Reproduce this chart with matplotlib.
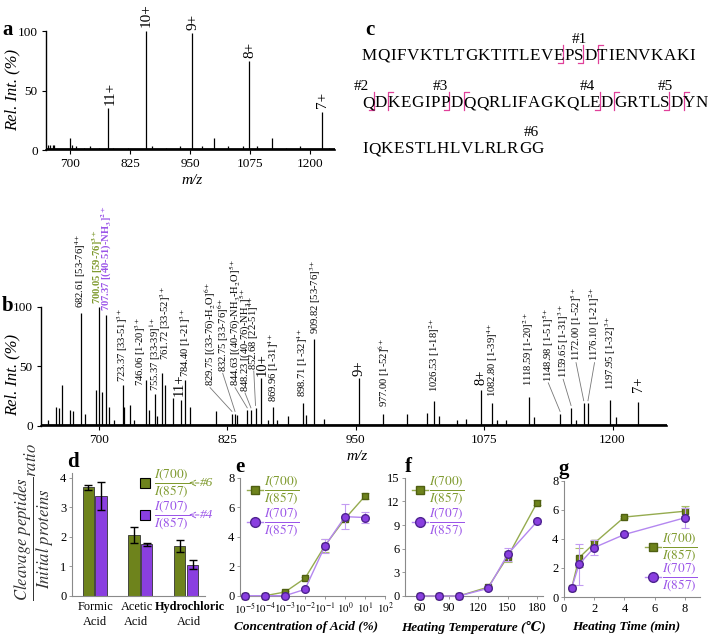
"""
plot.py
Mass spectra of acid-cleaved ubiquitin (a, b), sequence map (c) and
cleavage ratios vs acid / temperature / time (d-g).
"""

import numpy as np
import matplotlib
matplotlib.use("Agg")
import matplotlib.pyplot as plt
from matplotlib.lines import Line2D
from matplotlib.ticker import NullLocator
from matplotlib.font_manager import FontProperties, findfont, get_font

plt.rcParams['font.family'] = ['Liberation Serif', 'DejaVu Serif']
plt.rcParams['mathtext.fontset'] = 'stix'

# ==========================================
# Data
# ==========================================
# panel a: intact protein spectrum (m/z, rel. intensity %)
a_mz = [655, 659, 664.6, 667, 700, 705, 712, 730, 742, 760, 779.9, 790, 820,
        857.8, 870, 900, 930, 953.1, 975, 1000, 1030, 1060, 1071.9, 1090, 1121,
        1150, 1180, 1225.1, 1240]
a_int = [4, 4, 4, 4, 10, 4, 3, 2, 3, 2, 35, 2, 2,
         100, 3, 2, 3, 98, 3, 10, 3, 3, 75, 3, 10,
         2, 3, 32, 2]
a_charge_lab = ["11+", "10+", "9+", "8+", "7+"]
a_charge_mz = [784, 859.7, 955.5, 1075, 1226]
a_charge_y = [38, 103, 101, 77, 35]

# panel b: digested spectrum
b_mz = [650.8, 658.5, 661.7, 664.9, 672.4, 674.7, 682.61, 686.7, 697.3, 700.05,
        703.0, 707.37, 710.0, 715.0, 723.37, 724.8, 730.7, 734.0, 746.06, 748.6,
        755.37, 757.0, 761.72, 764.2, 772.0, 779.9, 784.40, 789.0, 814.0, 829.75,
        832.75, 835.0, 844.63, 848.23, 852.68, 857.8, 864.5, 869.96, 874.0, 884.0,
        898.71, 901.6, 909.82, 919.5, 953.1, 977.00, 1000.5, 1020.0, 1026.53, 1031.0,
        1049.0, 1057.0, 1071.9, 1082.80, 1088.0, 1096.0, 1118.59, 1124.0, 1148.98, 1159.65,
        1164.0, 1172.00, 1176.10, 1197.95, 1203.0, 1225.1]
b_int = [5, 16, 15, 34, 13, 12, 95, 10, 30, 100,
         28, 93, 16, 5, 34, 16, 17, 5, 38, 13,
         27, 8, 44, 34, 23, 22, 38, 16, 12, 10,
         10, 9, 13, 13, 15, 40, 5, 16, 5, 8,
         19, 9, 73, 6, 40, 10, 10, 11, 21, 8,
         5, 6, 30, 19, 5, 5, 24, 7, 10, 15,
         5, 19, 19, 22, 7, 20]

b_lab_text = [
    "682.61 [53-76]$^{4+}$",
    "700.05 [59-76]$^{\\mathbf{3+}}$",
    "707.37 [(40-51)-NH$_\\mathbf{3}$]$^{\\mathbf{2+}}$",
    "723.37 [33-51]$^{3+}$",
    "746.06 [1-20]$^{3+}$",
    "755.37 [33-39]$^{1+}$",
    "761.72 [33-52]$^{3+}$",
    "784.40 [1-21]$^{3+}$",
    "829.75 [(33-76)-H$_2$O]$^{6+}$",
    "832.75 [33-76]$^{6+}$",
    "844.63 [(40-76)-NH$_3$-H$_2$O]$^{5+}$",
    "848.23 [(40-76)-NH$_3$]$^{5+}$",
    "852.68 [22-51]$^{4+}$",
    "869.96 [1-31]$^{4+}$",
    "898.71 [1-32]$^{4+}$",
    "909.82 [53-76]$^{3+}$",
    "977.00 [1-52]$^{6+}$",
    "1026.53 [1-18]$^{2+}$",
    "1082.80 [1-39]$^{4+}$",
    "1118.59 [1-20]$^{2+}$",
    "1148.98 [1-51]$^{5+}$",
    "1159.65 [1-31]$^{3+}$",
    "1172.00 [1-52]$^{5+}$",
    "1176.10 [1-21]$^{2+}$",
    "1197.95 [1-32]$^{3+}$",
]
b_lab_x = [682.6, 698.7, 708.0, 723.4, 741.0, 754.8, 765.5, 784.6, 808.5, 820.8,
           832.8, 842.5, 851.0, 870.5, 898.0, 911.0, 977.5, 1026.5, 1083.5, 1118.6,
           1137.5, 1152.0, 1164.5, 1182.5, 1198.5]
b_lab_y = [99, 102, 96, 37, 33, 29, 55, 41, 33, 45,
           33, 28.5, 47, 20, 24, 77, 16, 28.5, 24, 33,
           37, 40, 54, 54, 30]
# leader lines: index of label -> (peak m/z, peak height)
b_leaders = {8: (829.75, 11), 9: (832.75, 11), 10: (844.63, 14), 11: (848.23, 14),
             12: (852.68, 16), 20: (1148.98, 11), 21: (1159.65, 16),
             22: (1172.00, 20), 23: (1176.10, 20)}
b_charge_lab = ["11+", "10+", "9+", "8+", "7+"]
b_charge_mz = [778, 859.5, 953, 1072, 1225.5]
b_charge_y = [25, 42, 42, 34, 28.5]

# panel c: sequence
seq_lines = ["MQIFVKTLTGKTITLEVEPSDTIENVKAKI",
             "QDKEGIPPDQQRLIFAGKQLEDGRTLSDYN",
             "IQKESTLHLVLRLRGG"]
cut_ends = [[18, 20], [1, 8, 21, 27], []]
cut_starts = [[21], [2, 9, 22, 28], []]
site_names = ["#1", "#2", "#3", "#4", "#5", "#6"]
site_line = [0, 1, 1, 1, 1, 2]
site_pos = [19.5, -0.1, 7.0, 19.8, 26.5, 15.0]

# panel d
acids = ["Formic", "Acetic", "Hydrochloric"]
d_700 = [3.67, 2.05, 1.68]
d_700_err = [0.1, 0.27, 0.2]
d_707 = [3.38, 1.75, 1.05]
d_707_err = [0.48, 0.05, 0.15]

# panel e
conc = [1e-5, 1e-4, 1e-3, 1e-2, 1e-1, 1, 10]
e_700 = [0, 0, 0.25, 1.18, 3.4, 5.22, 6.75]
e_700_err = [0, 0, 0.05, 0.1, 0.45, 0.1, 0.2]
e_707 = [0, 0, 0, 0.43, 3.37, 5.36, 5.3]
e_707_err = [0, 0, 0, 0.1, 0.5, 0.85, 0.35]

# panel f
temps = [60, 80, 100, 130, 150, 180]
f_700 = [0, 0, 0, 1.13, 5.0, 11.85]
f_700_err = [0, 0, 0, 0.15, 0.7, 0.35]
f_707 = [0, 0, 0, 0.97, 5.3, 9.45]
f_707_err = [0, 0, 0, 0.1, 0.8, 0.3]

# panel g
times = [0.5, 1, 2, 4, 8]
g_700 = [0.6, 2.7, 3.7, 5.5, 5.9]
g_700_err = [0.05, 0.65, 0.15, 0.1, 0.35]
g_707 = [0.6, 2.25, 3.4, 4.3, 5.45]
g_707_err = [0.05, 1.4, 0.5, 0.1, 0.7]

# ==========================================
# Figure helpers (pixel layout)
# ==========================================
W, H = 709, 636
GREEN = '#6e831c'
PURPLE = '#8a3fe0'
GREEN_TXT = '#7f9a2e'
PURPLE_TXT = '#9b55e8'
GREEN_LIGHT = '#a9bf6a'
PURPLE_LIGHT = '#c39cf2'
PINK = '#e0409a'
SPINE_GRAY = '#8a8a8a'

fig = plt.figure(figsize=(W / 100, H / 100), dpi=100)


def fx(x):
    return x / W


def fy(y):
    return 1 - y / H


def add_ax(l, t, r, b):
    return fig.add_axes([l / W, 1 - b / H, (r - l) / W, (b - t) / H])


def fig_line(xs, ys, **kw):
    fig.add_artist(Line2D([fx(x) for x in xs], [fy(y) for y in ys],
                          transform=fig.transFigure, **kw))


def spectrum_axes(ax, mz, inten):
    ax.vlines(mz, 0, inten, color='k', lw=0.9)
    ax.plot([644, 1253], [0.8, 0.8], color='k', lw=2.0, solid_capstyle='butt')
    ax.set_xlim(644, 1253)
    ax.set_ylim(0, 100)
    for s in ['top', 'right']:
        ax.spines[s].set_visible(False)
    ax.spines['left'].set_linewidth(1.0)
    ax.spines['bottom'].set_linewidth(1.2)
    ax.set_xticks([700, 825, 950, 1075, 1200])
    ax.set_yticks([0, 50, 100])
    ax.tick_params(labelsize=9.5, length=3, width=0.8, pad=3)
    ax.patch.set_alpha(0)


# ==========================================
# Panel a
# ==========================================
ax_a = add_ax(46, 31, 335, 150)
spectrum_axes(ax_a, a_mz, a_int)
ax_a.set_xlim(650, 1252)
for lab, x, y in zip(a_charge_lab, a_charge_mz, a_charge_y):
    ax_a.text(x, y, lab, rotation=90, ha='center', va='bottom', fontsize=11, clip_on=False)
fig.text(fx(12), fy(90), "Rel. Int. (%)", rotation=90, ha='center', va='center',
         fontsize=12, style='italic')
fig.text(fx(192), fy(181), "m/z", ha='center', va='center', fontsize=11, style='italic')
fig.text(fx(8), fy(30), "a", ha='center', va='center', fontsize=15, weight='bold')

# ==========================================
# Panel b
# ==========================================
ax_b = add_ax(41, 306.7, 667, 425.7)
spectrum_axes(ax_b, b_mz, b_int)
for i, (lab, x, y) in enumerate(zip(b_lab_text, b_lab_x, b_lab_y)):
    color, weight = 'k', 'normal'
    if i == 1:
        color, weight = GREEN_TXT, 'bold'
    elif i == 2:
        color, weight = PURPLE_TXT, 'bold'
    ax_b.text(x, y, lab, rotation=90, ha='center', va='bottom', fontsize=7.6,
              color=color, weight=weight, clip_on=False)
    if i in b_leaders:
        px, ph = b_leaders[i]
        ax_b.plot([x, px], [y - 1, ph + 1], color='#777777', lw=0.6, clip_on=False)
for lab, x, y in zip(b_charge_lab, b_charge_mz, b_charge_y):
    ax_b.text(x, y, lab, rotation=90, ha='center', va='bottom', fontsize=10.5, clip_on=False)
fig.text(fx(12), fy(375), "Rel. Int. (%)", rotation=90, ha='center', va='center',
         fontsize=12, style='italic')
fig.text(fx(357), fy(456), "m/z", ha='center', va='center', fontsize=11, style='italic')
fig.text(fx(8), fy(306), "b", ha='center', va='center', fontsize=15, weight='bold')

# ==========================================
# Panel c: sequence with cleavage marks
# ==========================================
fig.text(fx(370), fy(30), "c", ha='center', va='center', fontsize=15, weight='bold')
seq_fp = FontProperties(family='Liberation Serif', size=12.3)
seq_font = get_font(findfont(seq_fp))
seq_font.set_size(12.3, fig.dpi)


def advance(ch):
    return seq_font.load_char(ord(ch)).linearHoriAdvance / 65536


x0 = 362
baselines = [60, 107, 153]
track = max(0.0, (333 - sum(advance(c) for c in seq_lines[0])) / (len(seq_lines[0]) - 1))
bounds = []
for line, yb in zip(seq_lines, baselines):
    xs = [x0]
    for ch in line:
        fig.text(fx(xs[-1]), fy(yb), ch, fontproperties=seq_fp, ha='left', va='baseline')
        xs.append(xs[-1] + advance(ch) + track)
    bounds.append(xs)


def boundary(li, b):
    xs = bounds[li]
    if b <= 0:
        return xs[0] + b * 10
    i = int(b)
    frac = b - i
    bx = xs[i] - track / 2
    if frac:
        bx = bx + frac * (xs[i + 1] - xs[i])
    return bx

for li, yb in enumerate(baselines):
    top, bot = yb - 15, yb + 3
    for b in cut_ends[li]:
        bx = boundary(li, b) - 0.8
        fig_line([bx - 5, bx, bx], [bot, bot, top], color=PINK, lw=0.9)
    for b in cut_starts[li]:
        bx = boundary(li, b) + 0.8
        fig_line([bx, bx, bx + 5], [bot, top, top], color=PINK, lw=0.9)
for name, li, pos in zip(site_names, site_line, site_pos):
    fig.text(fx(boundary(li, pos)), fy(baselines[li] - 17), name, ha='center',
             va='baseline', fontsize=11)

# ==========================================
# Panel d: bars
# ==========================================
ax_d = add_ax(72, 473.3, 205, 595.7)
xd = np.arange(len(acids))
bw = 0.245
ax_d.bar(xd - 0.14, d_700, bw, yerr=d_700_err, color=GREEN, edgecolor='#333333', lw=0.6,
         capsize=3, error_kw=dict(lw=1.0, capthick=1.0, ecolor='k'))
ax_d.bar(xd + 0.14, d_707, bw, yerr=d_707_err, color=PURPLE, edgecolor='#333333', lw=0.6,
         capsize=3, error_kw=dict(lw=1.0, capthick=1.0, ecolor='k'))
ax_d.set_xlim(-0.495, 2.41)
ax_d.set_ylim(0, 4.15)
ax_d.set_yticks([0, 1, 2, 3, 4])
ax_d.set_xticks([])
ax_d.patch.set_alpha(0)
for s in ['top', 'right']:
    ax_d.spines[s].set_visible(False)
for s in ['left', 'bottom']:
    ax_d.spines[s].set_color(SPINE_GRAY)
ax_d.tick_params(labelsize=9, length=2, width=0.6, color=SPINE_GRAY, pad=2)
name_x = [96, 137, 190]
acid_x = [95, 136, 189]
for name, xn, xa in zip(acids, name_x, acid_x):
    fig.text(fx(xn), fy(607), name, ha='center', va='center',
             fontsize=8.8, weight='bold' if name == "Hydrochloric" else 'normal')
    fig.text(fx(xa), fy(622), "Acid", ha='center', va='center', fontsize=8.8)
fig.text(fx(34), fy(522),
         r"$\dfrac{\mathit{Cleavage\ peptides}}{\mathit{Initial\ proteins}}\mathit{ratio}$",
         rotation=90, ha='center', va='center', fontsize=12, color='#333333')
fig.text(fx(73), fy(462), "d", ha='center', va='center', fontsize=15, weight='bold')

# d legend
for yy, col, ecol, num, site in [(483, GREEN, GREEN_TXT, "700", "#6"),
                                 (515, PURPLE, PURPLE_TXT, "707", "#4")]:
    fig.add_artist(Line2D([fx(145)], [fy(yy)], marker='s', ms=6.5, mfc=col, mec='k',
                          mew=0.8, transform=fig.transFigure))
    fig.text(fx(172), fy(yy), r"$\dfrac{\mathit{I(%s)}}{\mathit{I(857)}}$" % num,
             ha='center', va='center', fontsize=9.5, color=ecol)
    ax_d.annotate('', xy=(fx(189), fy(yy)), xytext=(fx(199), fy(yy)),
                  xycoords='figure fraction', textcoords='figure fraction',
                  arrowprops=dict(arrowstyle='->', color=ecol, lw=0.7, linestyle='--',
                                  shrinkA=0, shrinkB=0))
    fig.text(fx(207), fy(yy), site, ha='center', va='center', fontsize=9.5,
             style='italic', color=ecol)

# ==========================================
# Panels e-g: line plots
# ==========================================


def style_small(ax):
    for s in ['top', 'right']:
        ax.spines[s].set_visible(False)
    for s in ['left', 'bottom']:
        ax.spines[s].set_color(SPINE_GRAY)
        ax.spines[s].set_linewidth(0.8)
    ax.tick_params(labelsize=9, length=2, width=0.6, color=SPINE_GRAY, pad=2)
    ax.patch.set_alpha(0)


def draw_series(ax, x, y700, e700, y707, e707):
    ax.errorbar(x, y700, yerr=e700, fmt='-s', color='#95ab4f', mfc=GREEN, mec='#4f5f12',
                ms=4.5, lw=1.0, ecolor=GREEN_LIGHT, elinewidth=0.8, capsize=3,
                capthick=0.8, clip_on=False, zorder=3)
    ax.errorbar(x, y707, yerr=e707, fmt='-o', color='#b487f0', mfc=PURPLE, mec='#4e2390',
                ms=5.5, lw=1.0, ecolor=PURPLE_LIGHT, elinewidth=0.8, capsize=3,
                capthick=0.8, clip_on=False, zorder=4)


def line_legend(xm, xf, y1, y2):
    for yy, lc, mc, me, mk, ms, ecol, num in [
            (y1, '#95ab4f', GREEN, '#4f5f12', 's', 6, GREEN_TXT, "700"),
            (y2, '#b487f0', PURPLE, '#4e2390', 'o', 7, PURPLE_TXT, "707")]:
        fig_line([xm - 8, xm + 8], [yy, yy], color=lc, lw=1.0)
        fig.add_artist(Line2D([fx(xm)], [fy(yy)], marker=mk, ms=ms, mfc=mc, mec=me,
                              transform=fig.transFigure))
        fig.text(fx(xf), fy(yy), r"$\dfrac{\mathit{I(%s)}}{\mathit{I(857)}}$" % num,
                 ha='center', va='center', fontsize=9.5, color=ecol)


# e
ax_e = add_ax(240, 477.7, 385, 595.7)
style_small(ax_e)
draw_series(ax_e, conc, e_700, e_700_err, e_707, e_707_err)
ax_e.set_xscale('log')
ax_e.set_xlim(10 ** -5.25, 1e2)
ax_e.set_ylim(0, 8)
ax_e.set_xticks([1e-5, 1e-4, 1e-3, 1e-2, 1e-1, 1, 10, 100])
ax_e.set_xticklabels([r"$10^{-5}$", r"$10^{-4}$", r"$10^{-3}$", r"$10^{-2}$",
                      r"$10^{-1}$", r"$10^{0}$", r"$10^{1}$", r"$10^{2}$"], fontsize=7.8)
ax_e.xaxis.set_minor_locator(NullLocator())
ax_e.set_yticks([0, 2, 4, 6, 8])
line_legend(255, 282, 490, 522)
fig.text(fx(306), fy(627), "Concentration of Acid (%)", ha='center', va='center',
         fontsize=9.5, weight='bold', style='italic')
fig.text(fx(240), fy(467), "e", ha='center', va='center', fontsize=15, weight='bold')

# f
ax_f = add_ax(405, 477.7, 543, 596)
style_small(ax_f)
draw_series(ax_f, temps, f_700, f_700_err, f_707, f_707_err)
ax_f.set_xlim(45, 186)
ax_f.set_ylim(0, 15)
ax_f.set_xticks([60, 90, 120, 150, 180])
ax_f.set_yticks([0, 3, 6, 9, 12, 15])
line_legend(420, 447, 490, 522)
fig.text(fx(473), fy(627), "Heating Temperature (\u2103)", ha='center', va='center',
         fontsize=9.5, weight='bold', style='italic')
fig.text(fx(408), fy(467), "f", ha='center', va='center', fontsize=15, weight='bold')

# g
ax_g = add_ax(564, 480.7, 700, 597)
style_small(ax_g)
draw_series(ax_g, times, g_700, g_700_err, g_707, g_707_err)
ax_g.set_xlim(0, 9)
ax_g.set_ylim(0, 8)
ax_g.set_xticks([0, 2, 4, 6, 8])
ax_g.set_yticks([0, 2, 4, 6, 8])
line_legend(653, 680, 547, 577)
fig.text(fx(626), fy(627), "Heating Time (min)", ha='center', va='center',
         fontsize=9.5, weight='bold', style='italic')
fig.text(fx(564), fy(469), "g", ha='center', va='center', fontsize=15, weight='bold')

fig.savefig("out.png", dpi=100)
